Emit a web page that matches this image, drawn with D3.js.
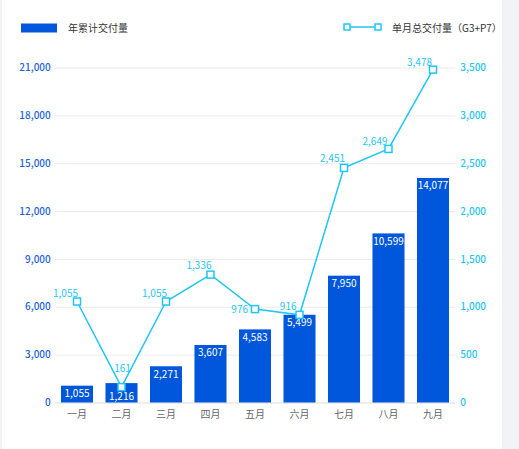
<!DOCTYPE html>
<html><head><meta charset="utf-8">
<script src="https://cdn.jsdelivr.net/npm/d3@7/dist/d3.min.js"></script>
<style>
html,body{margin:0;padding:0;background:#f2f3f5;}
svg{display:block;font-family:"Noto Sans CJK SC","Noto Sans",sans-serif;}
</style></head>
<body><svg id="c" width="519" height="449"></svg>
<script>
const categories = ["一月","二月","三月","四月","五月","六月","七月","八月","九月"];
const cumulative = [1055,1216,2271,3607,4583,5499,7950,10599,14077];
const monthly = [1055,161,1055,1336,976,916,2451,2649,3478];
const leftTicks = [0,3000,6000,9000,12000,15000,18000,21000];
const rightTicks = [0,500,1000,1500,2000,2500,3000,3500];
const barName = "年累计交付量";
const lineName = "单月总交付量（G3+P7）";

// label placement (style): [anchor, dx, dy]
const lineLabelPlace = [["end",1,-8],["middle",1,-19],["end",1,-8],["end",1,-9],["end",-7,0],["end",-3,-8],["end",1,-9],["end",-1,-7],["end",-1,-7]];
const barLabelDy = [8,13,8,8,8,8,8,8,8];

const BAR = "#0057db", LINE = "#1fc6f5", LEFTC = "#1f63dc";
const svg = d3.select("#c");
svg.append("rect").attr("x",2).attr("y",0).attr("width",500).attr("height",449).attr("fill","#fff");

const x = d3.scaleBand().domain(categories).range([54.75,455.25]).paddingInner(0.28).paddingOuter(0.14);
const yL = d3.scaleLinear().domain([0,21000]).range([402.5,67.5]);
const yR = d3.scaleLinear().domain([0,3500]).range([402.5,67.5]);
const fmt = d3.format(",");

// grid
svg.append("g").selectAll("line").data(leftTicks).join("line")
  .attr("x1",54.75).attr("x2",455.25).attr("y1",d=>yL(d)+0.5).attr("y2",d=>yL(d)+0.5)
  .attr("stroke",d=>d===0?"#dcdcdc":"#ebebeb").attr("stroke-width",1);

// left axis
const gl = svg.append("g").attr("transform","translate(54.75,0)")
  .call(d3.axisLeft(yL).tickValues(leftTicks).tickFormat(fmt).tickSize(0).tickPadding(4));
gl.select(".domain").remove();
gl.selectAll("text").attr("fill",LEFTC).attr("font-size",10).attr("font-weight",500).attr("font-family","Noto Sans CJK SC");

// right axis
const gr = svg.append("g").attr("transform","translate(455.25,0)")
  .call(d3.axisRight(yR).tickValues(rightTicks).tickFormat(fmt).tickSize(0).tickPadding(5));
gr.select(".domain").remove();
gr.selectAll("text").attr("fill",LINE).attr("font-size",10).attr("font-weight",500).attr("font-family","Noto Sans CJK SC");

// bottom axis
const gb = svg.append("g").attr("transform","translate(0,402.5)")
  .call(d3.axisBottom(x).tickSize(0).tickPadding(8));
gb.select(".domain").remove();
gb.selectAll("text").attr("fill","#666").attr("font-size",10).attr("font-family","Noto Sans CJK SC");

// bars
svg.append("g").selectAll("rect").data(cumulative).join("rect")
  .attr("x",(d,i)=>x(categories[i])).attr("width",x.bandwidth())
  .attr("y",d=>yL(d)).attr("height",d=>yL(0)-yL(d)).attr("fill",BAR);
svg.append("g").selectAll("text").data(cumulative).join("text")
  .attr("x",(d,i)=>x(categories[i])+x.bandwidth()/2).attr("y",(d,i)=>yL(d)+barLabelDy[i])
  .attr("dy","0.35em").attr("text-anchor","middle").attr("fill","#fff").attr("font-size",10)
  .text(d=>fmt(d));

// line
const cx = i=>x(categories[i])+x.bandwidth()/2;
svg.append("path").datum(monthly)
  .attr("d",d3.line().x((d,i)=>cx(i)).y(d=>yR(d)))
  .attr("fill","none").attr("stroke",LINE).attr("stroke-width",1.5);
svg.append("g").selectAll("rect").data(monthly).join("rect")
  .attr("x",(d,i)=>cx(i)-3.5).attr("y",d=>yR(d)-3.5).attr("width",7).attr("height",7)
  .attr("fill","#fff").attr("stroke",LINE).attr("stroke-width",1.5);
svg.append("g").selectAll("text").data(monthly).join("text")
  .attr("x",(d,i)=>cx(i)+lineLabelPlace[i][1]).attr("y",(d,i)=>yR(d)+lineLabelPlace[i][2])
  .attr("text-anchor",(d,i)=>lineLabelPlace[i][0]).attr("dy","0.35em")
  .attr("fill",LINE).attr("font-size",10).text(d=>fmt(d));

// legend
svg.append("rect").attr("x",21).attr("y",23.5).attr("width",36).attr("height",9).attr("fill",BAR);
svg.append("text").attr("x",68).attr("y",28).attr("dy","0.35em").attr("font-size",10).attr("fill","#333").text(barName);
svg.append("line").attr("x1",347).attr("x2",378).attr("y1",27).attr("y2",27).attr("stroke",LINE).attr("stroke-width",1.5);
[347,378].forEach(px=>svg.append("rect").attr("x",px-3).attr("y",24).attr("width",6).attr("height",6)
  .attr("fill","#fff").attr("stroke",LINE).attr("stroke-width",1.5));
svg.append("text").attr("x",392).attr("y",28).attr("dy","0.35em").attr("font-size",10).attr("fill","#333").text(lineName);
</script></body></html>
